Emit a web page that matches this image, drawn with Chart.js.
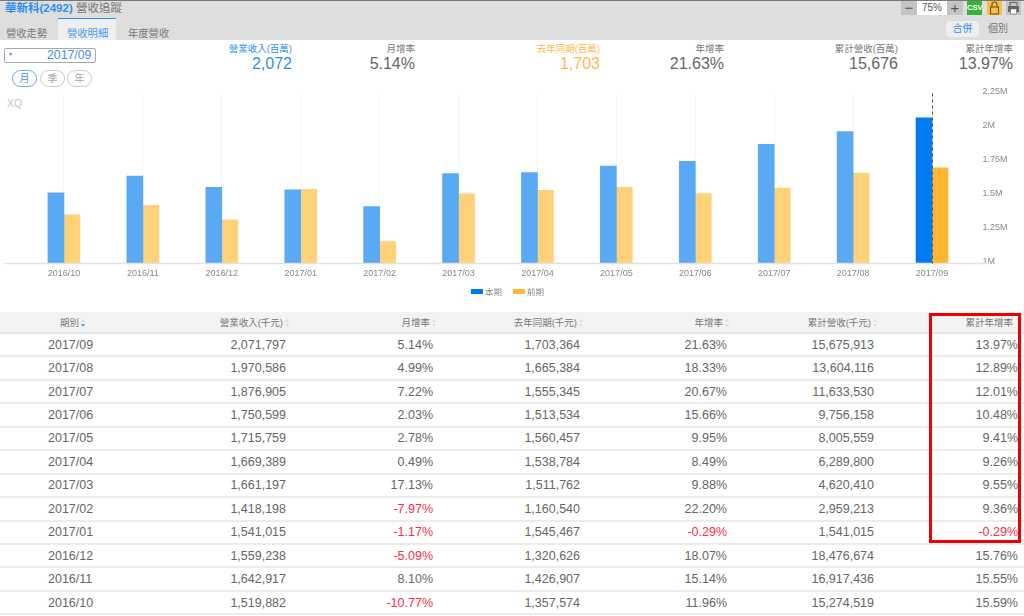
<!DOCTYPE html>
<html>
<head>
<meta charset="utf-8">
<script src="https://cdn.jsdelivr.net/npm/chart.js@4"></script>
<style>
html,body{margin:0;padding:0;background:#fff;}
body{width:1024px;height:616px;overflow:hidden;position:relative;font-family:"Liberation Sans","Noto Sans CJK TC",sans-serif;color:#666;}
.abs{position:absolute;white-space:nowrap;}
#top{position:absolute;left:0;top:0;width:1024px;height:40px;background:#dedede;border-top:1px solid #777;box-sizing:border-box;}
#tab{position:absolute;left:58px;top:18px;width:58px;height:22px;background:#efefef;border-top:1px solid #2f8fee;box-sizing:border-box;}
.tabt{font-size:10.3px;top:25px;color:#777;}
.btn{position:absolute;top:1px;height:14px;text-align:center;font-size:10px;line-height:14px;box-sizing:border-box;}
.sumh{font-size:9.5px;top:41px;text-align:right;width:90px;color:#777;}
.sumv{font-size:16px;top:55px;text-align:right;width:90px;color:#666;}
.blue{color:#2f8fee;}
.orange{color:#ffb84d;}
.pill{position:absolute;top:70px;width:23px;height:17px;border:1px solid #ccc;border-radius:9px;font-size:10px;line-height:16px;text-align:center;color:#aaa;box-sizing:border-box;}
#chartBox{position:absolute;left:0;top:78px;width:1024px;height:212px;}
.leg{position:absolute;top:287px;font-size:8.5px;color:#888;line-height:10px;}
.leg i{display:inline-block;width:12px;height:5px;margin-right:2px;vertical-align:1px;}
table{position:absolute;left:0;top:312px;width:1024px;border-collapse:collapse;table-layout:fixed;}
th{height:20px;background:#f3f3f3;font-weight:normal;font-size:9.5px;color:#777;text-align:right;padding:0;border-bottom:2px solid #e6e6e6;}
td{height:21.45px;padding:0;font-size:12.5px;color:#666;text-align:right;border-bottom:2px solid #ececec;}
td.neg{color:#f0304a;}
td:first-child{text-align:left;padding-left:48px;}
th:first-child{text-align:left;padding-left:60px;}
.pr2{padding-right:4px;}.pr3{padding-right:4px;}.pr4{padding-right:4px;}.pr5{padding-right:3px;}.pr6{padding-right:4px;}.pr7{padding-right:6px;}
th.pr2{padding-right:0;}th.pr3{padding-right:0;}th.pr4{padding-right:0;}th.pr5{padding-right:0;}th.pr6{padding-right:0;}th.pr7{padding-right:11px;}
.sort{display:inline-block;width:5px;height:8px;margin-left:2px;position:relative;vertical-align:-1px;}
.sort:before,.sort:after{content:"";position:absolute;left:0;border-left:2.5px solid transparent;border-right:2.5px solid transparent;}
.sort:before{top:0;border-bottom:3px solid #cfe0ee;}
.sort:after{bottom:0;border-top:3px solid #cfe0ee;}
.sort.on:after{border-top-color:#5a9bd8;}
#mark{position:absolute;left:929px;top:313px;width:92px;height:230px;border:3px solid #ee0000;box-sizing:border-box;}
</style>
</head>
<body>
<div id="top"></div>
<div class="abs" style="left:5px;top:-1px;font-size:11.5px;"><span class="blue" style="font-weight:bold">華新科(2492)</span> <span style="color:#777">營收追蹤</span></div>
<div id="tab"></div>
<div class="abs tabt" style="left:6px">營收走勢</div>
<div class="abs tabt" style="left:67px;color:#4a9bee">營收明細</div>
<div class="abs tabt" style="left:128px">年度營收</div>

<div class="btn" style="left:901px;width:16px;background:#c4c4c4;color:#555;font-size:15px;">−</div>
<div class="btn" style="left:917px;width:30px;background:#fff;color:#555;">75%</div>
<div class="btn" style="left:947px;width:16px;background:#c4c4c4;color:#555;font-size:15px;">+</div>
<div class="btn" style="left:967px;width:15px;background:#35b335;color:#fff;font-size:7.5px;font-weight:bold;">CSV</div>
<div class="btn" style="left:987px;width:15px;background:#f5c04a;">
  <svg width="15" height="14" viewBox="0 0 15 14"><path d="M5 6V3.5a2.5 2.5 0 0 1 5 0V6" fill="none" stroke="#7a5c10" stroke-width="1.2"/><rect x="3.5" y="6" width="8" height="7" fill="none" stroke="#7a5c10" stroke-width="1.2"/></svg>
</div>
<div class="btn" style="left:1006px;width:15px;background:#c4c4c4;">
  <svg width="15" height="14" viewBox="0 0 15 14"><rect x="2" y="5" width="11" height="6" fill="#666"/><rect x="4" y="1.5" width="7" height="4" fill="none" stroke="#666"/><rect x="4.5" y="8" width="6" height="5" fill="#fff" stroke="#666" stroke-width=".6"/></svg>
</div>
<div class="abs" style="left:946px;top:21px;width:33px;height:16px;background:#eee;border-radius:4px;text-align:center;font-size:10px;line-height:16px;color:#2f8fee;">合併</div>
<div class="abs" style="left:988px;top:21px;font-size:10px;line-height:16px;color:#777;">個別</div>

<div class="abs" style="left:4px;top:48px;width:92px;height:15px;border:1px solid #aaa;box-sizing:border-box;border-radius:2px;"></div>
<div class="abs blue" style="left:9px;top:50px;font-size:6px;">▾</div>
<div class="abs" style="left:47px;top:48px;font-size:12.3px;color:#3f8fe8;" id="curPeriod"></div>
<div class="pill" style="left:12px;border-color:#6aa9ec;color:#3f8fe8;width:25px">月</div>
<div class="pill" style="left:40px;width:25px">季</div>
<div class="pill" style="left:67px;width:25px">年</div>

<div class="abs sumh" style="left:202px;color:#2f8fee">營業收入(百萬)</div>
<div class="abs sumv blue" style="left:202px" id="s1"></div>
<div class="abs sumh" style="left:325px">月增率</div>
<div class="abs sumv" style="left:325px" id="s2"></div>
<div class="abs sumh orange" style="left:510px">去年同期(百萬)</div>
<div class="abs sumv orange" style="left:510px" id="s3"></div>
<div class="abs sumh" style="left:634px">年增率</div>
<div class="abs sumv" style="left:634px" id="s4"></div>
<div class="abs sumh" style="left:808px">累計營收(百萬)</div>
<div class="abs sumv" style="left:808px" id="s5"></div>
<div class="abs sumh" style="left:923px">累計年增率</div>
<div class="abs sumv" style="left:923px" id="s6"></div>
<div class="abs" style="left:7px;top:97px;font-size:10.5px;color:#c4c4c4;">XQ</div>

<div id="chartBox"><canvas id="revChart"></canvas></div>
<div class="leg" style="left:471px"><i style="background:#007bf0"></i>本期</div>
<div class="leg" style="left:513px"><i style="background:#ffb733"></i>前期</div>

<table id="tbl"></table>
<div id="mark"></div>

<script>
// newest first, same order as the table
const periods = ['2017/09','2017/08','2017/07','2017/06','2017/05','2017/04','2017/03','2017/02','2017/01','2016/12','2016/11','2016/10'];
const revenue = [2071797,1970586,1876905,1750599,1715759,1669389,1661197,1418198,1541015,1559238,1642917,1519882];
const momGrowth = [5.14,4.99,7.22,2.03,2.78,0.49,17.13,-7.97,-1.17,-5.09,8.10,-10.77];
const lastYear = [1703364,1665384,1555345,1513534,1560457,1538784,1511762,1160540,1545467,1320626,1426907,1357574];
const yoyGrowth = [21.63,18.33,20.67,15.66,9.95,8.49,9.88,22.20,-0.29,18.07,15.14,11.96];
const cumRevenue = [15675913,13604116,11633530,9756158,8005559,6289800,4620410,2959213,1541015,18476674,16917436,15274519];
const cumGrowth = [13.97,12.89,12.01,10.48,9.41,9.26,9.55,9.36,-0.29,15.76,15.55,15.59];
const headers = ['期別','營業收入(千元)','月增率','去年同期(千元)','年增率','累計營收(千元)','累計年增率'];
const colWidths = [143,147,147,147,146,148,146];
const yTicks = [1000000,1250000,1500000,1750000,2000000,2250000];
const yTickLabels = ['1M','1.25M','1.5M','1.75M','2M','2.25M'];

const num = v => v.toLocaleString('en-US');
const pct = v => v.toFixed(2) + '%';

document.getElementById('curPeriod').textContent = periods[0];
document.getElementById('s1').textContent = num(Math.round(revenue[0] / 1000));
document.getElementById('s2').textContent = pct(momGrowth[0]);
document.getElementById('s3').textContent = num(Math.round(lastYear[0] / 1000));
document.getElementById('s4').textContent = pct(yoyGrowth[0]);
document.getElementById('s5').textContent = num(Math.round(cumRevenue[0] / 1000));
document.getElementById('s6').textContent = pct(cumGrowth[0]);

// table
let html = '<colgroup>' + colWidths.map(w => `<col style="width:${w}px">`).join('') + '</colgroup><tr>';
headers.forEach((h, i) => {
  const arrow = i === 6 ? '' : `<span class="sort${i === 0 ? ' on' : ''}"></span>`;
  html += `<th class="pr${i + 1}">${h}${arrow}</th>`;
});
html += '</tr>';
periods.forEach((p, i) => {
  const neg = v => v < 0 ? ' neg' : '';
  html += `<tr><td>${p}</td>` +
    `<td class="pr2">${num(revenue[i])}</td>` +
    `<td class="pr3${neg(momGrowth[i])}">${pct(momGrowth[i])}</td>` +
    `<td class="pr4">${num(lastYear[i])}</td>` +
    `<td class="pr5${neg(yoyGrowth[i])}">${pct(yoyGrowth[i])}</td>` +
    `<td class="pr6">${num(cumRevenue[i])}</td>` +
    `<td class="pr7${neg(cumGrowth[i])}">${pct(cumGrowth[i])}</td></tr>`;
});
document.getElementById('tbl').innerHTML = html;

// chart runs oldest to newest
const labels = [...periods].reverse();
const curData = [...revenue].reverse();
const prevData = [...lastYear].reverse();
const lastIdx = labels.length - 1;

// baseline and dashed marker on the selected month
const overlay = {
  id: 'overlay',
  afterDatasetsDraw(chart) {
    const { ctx, scales: { x, y } } = chart;
    const base = y.getPixelForValue(yTicks[0]);
    ctx.save();
    ctx.strokeStyle = '#e2e2e2';
    ctx.lineWidth = 1.5;
    ctx.beginPath();
    ctx.moveTo(4, base);
    ctx.lineTo(x.right + 18, base);
    ctx.stroke();
    ctx.strokeStyle = '#555';
    ctx.lineWidth = 1;
    ctx.setLineDash([3, 3]);
    const mx = Math.round(x.getPixelForValue(lastIdx)) + 0.5;
    ctx.beginPath();
    ctx.moveTo(mx, y.top);
    ctx.lineTo(mx, base);
    ctx.stroke();
    ctx.restore();
  }
};

new Chart(document.getElementById('revChart').getContext('2d'), {
  type: 'bar',
  data: {
    labels: labels,
    datasets: [
      {
        label: '本期',
        data: curData,
        backgroundColor: labels.map((l, i) => i === lastIdx ? '#007bf0' : '#5aa9f5'),
        barThickness: 16
      },
      {
        label: '前期',
        data: prevData,
        backgroundColor: labels.map((l, i) => i === lastIdx ? '#ffb733' : '#ffd27a'),
        barThickness: 16
      }
    ]
  },
  options: {
    responsive: true,
    maintainAspectRatio: false,
    animation: false,
    layout: { padding: { left: 24.5, right: 0, top: 15.5, bottom: 0 } },
    plugins: { legend: { display: false }, tooltip: { enabled: false } },
    scales: {
      x: {
        afterFit: s => { s.height = 26.5; },
        grid: { offset: false, color: '#f4f4f4', drawTicks: false },
        border: { display: false },
        ticks: { color: '#888', font: { size: 9, family: 'Liberation Sans' }, padding: 5, maxRotation: 0, autoSkip: false }
      },
      y: {
        position: 'right',
        min: yTicks[0],
        max: yTicks[yTicks.length - 1],
        afterFit: s => { s.width = 52.5; },
        afterBuildTicks: s => { s.ticks = yTicks.map(v => ({ value: v })); },
        grid: { display: false },
        border: { display: false },
        ticks: {
          color: '#888',
          font: { size: 9, family: 'Liberation Sans' },
          padding: 3,
          labelOffset: -1.5,
          callback: v => yTickLabels[yTicks.indexOf(v)]
        }
      }
    }
  },
  plugins: [overlay]
});
</script>
</body>
</html>
